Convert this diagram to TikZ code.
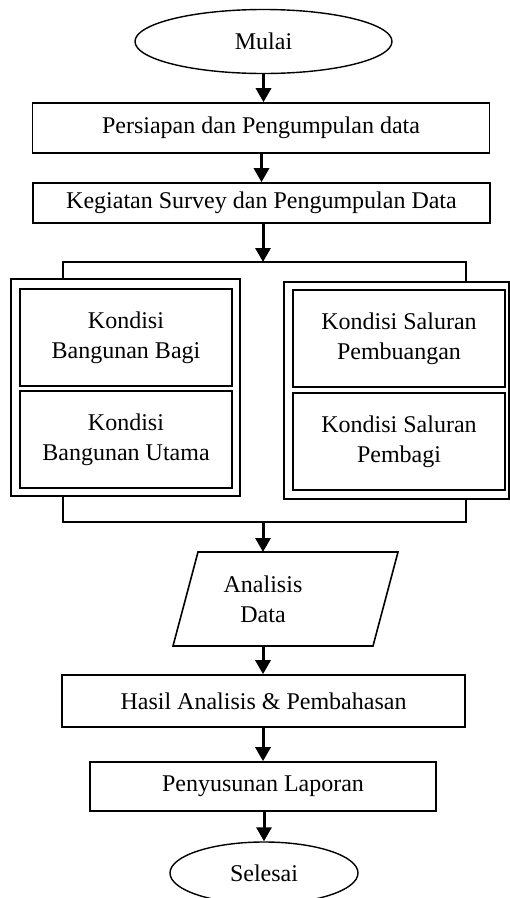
\documentclass[tikz,border=0pt]{standalone}
\usepackage{fontspec}
\setmainfont{Liberation Serif}
\usetikzlibrary{shapes.geometric,arrows.meta}
\begin{document}
\begin{tikzpicture}[x=1pt,y=-1pt,
  font=\fontsize{24}{30}\selectfont,
  box/.style={draw,line width=1.6pt,rectangle,inner sep=0pt,align=center},
  oval/.style={draw,line width=1.4pt,ellipse,inner sep=0pt},
  outer/.style={draw,line width=1.2pt,rectangle,inner sep=0pt},
  arr/.style={line width=3pt,-{Triangle[length=14pt,width=15pt]}},
  ln/.style={line width=1.6pt}]
\useasboundingbox (0,0) rectangle (510,898);
\begin{scope}
\clip (0,0) rectangle (510,898);
\node[oval,minimum width=257pt,minimum height=64pt] (mulai) at (263.5,41.5) {Mulai};
\node[box,minimum width=457pt,minimum height=50pt] (p1) at (261,128) {Persiapan dan Pengumpulan data};
\node[box,minimum width=457pt,minimum height=40pt] (p2) at (261.5,203) {Kegiatan Survey dan Pengumpulan Data};
\node[outer,minimum width=229pt,minimum height=217pt] (lo) at (125.5,387.5) {};
\node[box,minimum width=212pt,minimum height=97pt] (l1) at (126,337.5) {Kondisi\\Bangunan Bagi};
\node[box,minimum width=212pt,minimum height=97pt] (l2) at (126,439.5) {Kondisi\\Bangunan Utama};
\node[outer,minimum width=225pt,minimum height=217pt] (ro) at (396.5,390.5) {};
\node[box,minimum width=212pt,minimum height=97pt] (r1) at (399,338.5) {Kondisi Saluran\\Pembuangan};
\node[box,minimum width=212pt,minimum height=97pt] (r2) at (399,441.5) {Kondisi Saluran\\Pembagi};
\coordinate (jt) at (263,262);
\coordinate (jtl) at (63,262);
\coordinate (jtr) at (466,262);
\coordinate (jb) at (263,522);
\coordinate (jbl) at (63,522);
\coordinate (jbr) at (466,522);
\coordinate (a1) at (198,552);
\coordinate (a2) at (398,552);
\coordinate (a3) at (373,646);
\coordinate (a4) at (173,646);
\draw[ln] (a1) -- (a2) -- (a3) -- (a4) -- cycle;
\node[align=center,inner sep=0pt] (an) at (263,599) {Analisis\\Data};
\coordinate (antop) at (263,552);
\coordinate (anbot) at (263,646);
\node[box,minimum width=403pt,minimum height=52pt] (hasil) at (263.5,701) {Hasil Analisis \& Pembahasan};
\node[box,minimum width=346pt,minimum height=49pt] (lap) at (263,786.5) {Penyusunan Laporan};
\node[oval,minimum width=188pt,minimum height=62pt] (sel) at (264,873) {Selesai};
\draw[arr] (mulai.south) -- (mulai.south |- p1.north);
\draw[arr] (p1.south -| p2.north) -- (p2.north);
\draw[arr] (p2.south -| jt) -- (jt);
\draw[ln] (jtl |- lo.north) -- (jtl) -- (jtr) -- (jtr |- ro.north);
\draw[ln] (jbl |- lo.south) -- (jbl) -- (jbr) -- (jbr |- ro.south);
\draw[arr] (jb) -- (antop);
\draw[arr] (anbot) -- (hasil.north -| anbot);
\draw[arr] (hasil.south -| lap.north) -- (lap.north);
\draw[arr] (lap.south -| sel.north) -- (sel.north);
\end{scope}
\end{tikzpicture}
\end{document}
